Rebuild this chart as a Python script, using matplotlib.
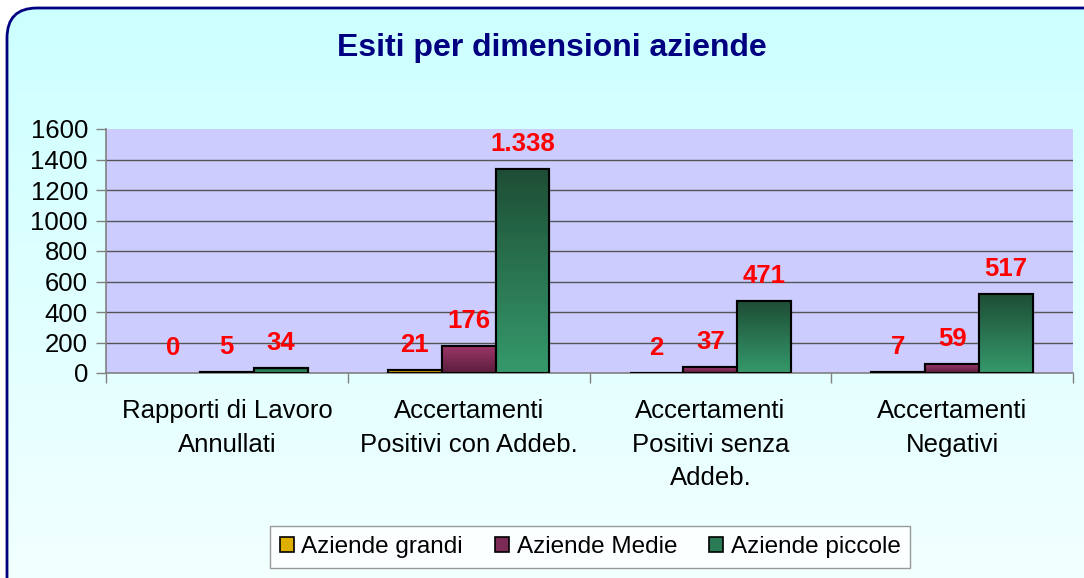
"""Esiti per dimensioni aziende - clustered bar chart with gradient fills."""
import numpy as np
import matplotlib
matplotlib.use("Agg")
import matplotlib.pyplot as plt
from matplotlib.colors import LinearSegmentedColormap
from matplotlib.patches import FancyBboxPatch, Patch

# ── Data ──────────────────────────────────────────────────────────
categories = [
    "Rapporti di Lavoro\nAnnullati",
    "Accertamenti\nPositivi con Addeb.",
    "Accertamenti\nPositivi senza\nAddeb.",
    "Accertamenti\nNegativi",
]
series_names = ["Aziende grandi", "Aziende Medie", "Aziende piccole"]
grandi = [0, 21, 2, 7]
medie = [5, 176, 37, 59]
piccole = [34, 1338, 471, 517]
y_ticks = [0, 200, 400, 600, 800, 1000, 1200, 1400, 1600]

# ── Style ─────────────────────────────────────────────────────────
W, H, DPI = 1084, 578, 100
plt.rcParams.update({
    "font.family": ["Liberation Sans", "DejaVu Sans"],
    "font.size": 18,
})

# (top, bottom) gradient colours and legend colour per series
GRAD = [("#F2C400", "#A87C00"), ("#9C3568", "#5A1E3C"), ("#1E4E36", "#35996B")]
LEG = ["#E0B000", "#7B2B55", "#2A7A55"]


def px(x0, y0, x1, y1):
    """Pixel box (top-left origin) -> figure rect."""
    return [x0 / W, 1 - y1 / H, (x1 - x0) / W, (y1 - y0) / H]


def fmt(v):
    return f"{v:,}".replace(",", ".")


fig = plt.figure(figsize=(W / DPI, H / DPI), dpi=DPI, facecolor="white")

# ── Background with rounded border ────────────────────────────────
bg = fig.add_axes([0, 0, 1, 1], zorder=-10)
bg.set_xlim(0, W)
bg.set_ylim(H, 0)
bg.axis("off")
frame = FancyBboxPatch((7, 8), W + 40, H + 40,
                       boxstyle="round,pad=0,rounding_size=30",
                       facecolor="none", edgecolor="#000080", lw=2.0, zorder=3)
bg.add_patch(frame)
bg_cmap = LinearSegmentedColormap.from_list("bg", ["#CCFFFF", "#F2FFFF"])
im = bg.imshow(np.linspace(0, 1, 256).reshape(-1, 1), cmap=bg_cmap,
               extent=[0, W, H, 0], aspect="auto", zorder=1)
im.set_clip_path(frame)

fig.text(552 / W, 1 - 48 / H, "Esiti per dimensioni aziende",
         ha="center", va="center", fontsize=23, fontweight="bold",
         color="#000080")

# ── Plot area ─────────────────────────────────────────────────────
ax = fig.add_axes(px(106, 129, 1073, 373))
ax.set_facecolor("#CCCCFF")

x = np.arange(len(categories))
bw = 0.223
for i, vals in enumerate([grandi, medie, piccole]):
    ctop, cbot = GRAD[i]
    cmap = LinearSegmentedColormap.from_list(f"s{i}", [cbot, ctop])
    for xi, v in zip(x + (i - 1) * bw, vals):
        if v > 0:
            rect = ax.bar(xi, v, bw, facecolor=cbot, edgecolor="black",
                          lw=1.5, zorder=3)[0]
            g = ax.imshow(np.linspace(0, 1, 64).reshape(-1, 1), cmap=cmap,
                          origin="lower", extent=[xi - bw / 2, xi + bw / 2, 0, v],
                          aspect="auto", zorder=3.1)
            g.set_clip_path(rect)
            ax.bar(xi, v, bw, facecolor="none", edgecolor="black",
                   lw=1.5, zorder=3.2)
        ax.annotate(fmt(v), (xi, v), xytext=(0, 13), textcoords="offset points",
                    ha="center", va="baseline", color="red",
                    fontsize=18.5, fontweight="bold", zorder=5)

for t in y_ticks[1:-1]:
    ax.axhline(t, color="#555555", lw=1.0, zorder=1)

ax.set_xlim(-0.5, len(categories) - 0.5)
ax.set_ylim(0, 1600)
ax.set_yticks(y_ticks)
ax.tick_params(axis="y", length=7, width=1, color="#808080", pad=6,
               labelsize=18.5)
ax.set_xticks(np.arange(-0.5, len(categories)), labels=[""] * (len(categories) + 1))
ax.tick_params(axis="x", which="major", length=7, width=1, color="#808080")
ax.set_xticks(x, labels=categories, minor=True)
ax.tick_params(axis="x", which="minor", length=0, pad=19, labelsize=18.5)
for lab in ax.get_xticklabels(minor=True):
    lab.set_linespacing(1.5)

for side in ["top", "right"]:
    ax.spines[side].set_visible(False)
for side in ["left", "bottom"]:
    ax.spines[side].set_color("#808080")
    ax.spines[side].set_linewidth(1.2)

# ── Legend ────────────────────────────────────────────────────────
handles = [Patch(facecolor=c, edgecolor="black", lw=1.2) for c in LEG]
leg = fig.legend(handles, series_names, loc="center", ncol=3,
                 bbox_to_anchor=(590 / W, 1 - 547 / H), fontsize=17.5,
                 frameon=True, fancybox=False, edgecolor="#808080",
                 handlelength=0.6, handleheight=0.6, handletextpad=0.3,
                 columnspacing=1.3, borderpad=0.4)
leg.get_frame().set_linewidth(1.0)
leg.get_frame().set_facecolor("white")

fig.savefig("out.png", dpi=DPI)
